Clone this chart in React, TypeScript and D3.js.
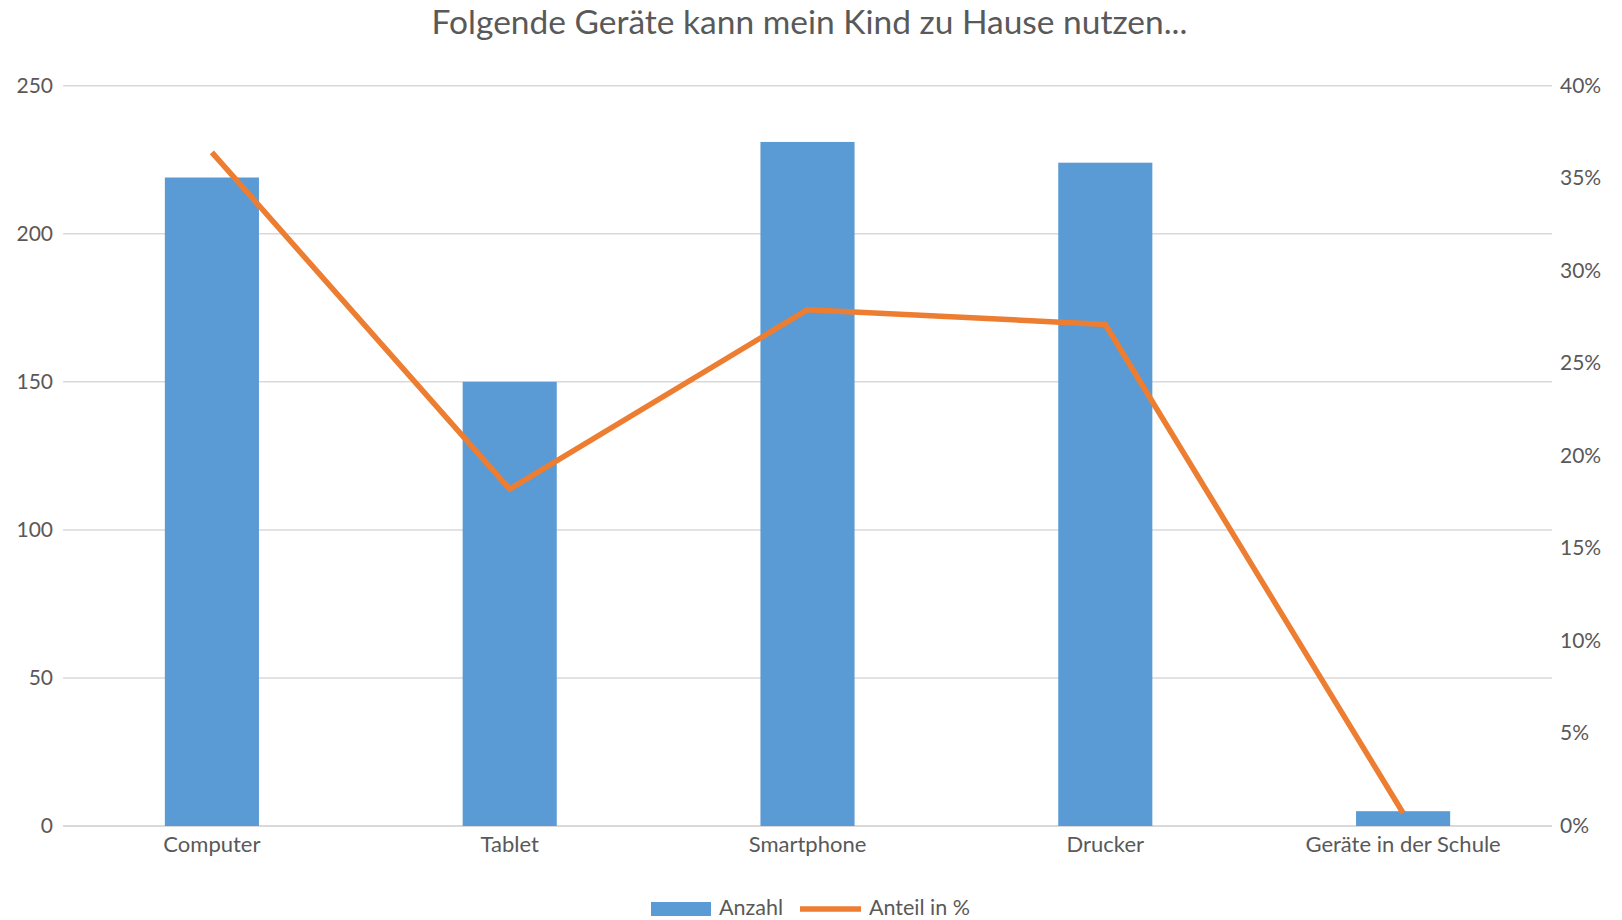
import React from "react";
import * as d3 from "d3";

const categories = ["Computer", "Tablet", "Smartphone", "Drucker", "Geräte in der Schule"];
const anzahl = [219, 150, 231, 224, 5];
const anteil = [36.4, 18.2, 27.9, 27.1, 0.7];
const leftTicks = [0, 50, 100, 150, 200, 250];
const rightTicks = [0, 5, 10, 15, 20, 25, 30, 35, 40];
const title = "Folgende Geräte kann mein Kind zu Hause nutzen...";

const W = 1622;
const H = 920;
const FONT = "Lato, 'Open Sans', sans-serif";
const TEXT = "#595959";
const BLUE = "#5B9BD5";
const ORANGE = "#ED7D31";
const GRID = "#D9D9D9";

export default function App() {
  const left = 63;
  const right = 1552;
  const top = 85.7;
  const bottom = 826;

  const x = d3.scaleBand<string>().domain(categories).range([left, right]).paddingInner(0.684).paddingOuter(0.342);
  const xc = d3.scalePoint<string>().domain(categories).range([left, right]).padding(0.5);
  const yL = d3.scaleLinear().domain([0, 250]).range([bottom, top]);
  const yR = d3.scaleLinear().domain([0, 40]).range([bottom, top]);

  const line = d3
    .line<number>()
    .x((_, i) => xc(categories[i]) as number)
    .y((d) => yR(d));

  return (
    <svg
      width={W}
      height={H}
      style={{ position: "absolute", left: 0, top: 0, background: "#fff" }}
      fontFamily={FONT}
    >
      <rect x={0} y={0} width={W} height={H} fill="#fff" />
      <text x={809.5} y={34} textAnchor="middle" fontSize={33.5} fill={TEXT}>
        {title}
      </text>
      {leftTicks.map((t) => (
        <line key={"g" + t} x1={left} x2={right} y1={yL(t)} y2={yL(t)} stroke={GRID} strokeWidth={t === 0 ? 2 : 1.5} />
      ))}
      {leftTicks.map((t) => (
        <text key={"l" + t} x={53} y={yL(t) + 7} textAnchor="end" fontSize={21} fill={TEXT}>
          {t}
        </text>
      ))}
      {rightTicks.map((t) => (
        <text key={"r" + t} x={1560} y={yR(t) + 7} textAnchor="start" fontSize={21} fill={TEXT}>
          {t + "%"}
        </text>
      ))}
      {categories.map((c, i) => (
        <rect key={"b" + c} x={x(c)} y={yL(anzahl[i])} width={x.bandwidth()} height={yL(0) - yL(anzahl[i])} fill={BLUE} />
      ))}
      <path d={line(anteil) || ""} fill="none" stroke={ORANGE} strokeWidth={5.5} strokeLinejoin="round" />
      {categories.map((c) => (
        <text key={"c" + c} x={xc(c)} y={852} textAnchor="middle" fontSize={22} fill={TEXT}>
          {c}
        </text>
      ))}
      <rect x={651} y={902} width={60} height={14} fill={BLUE} />
      <text x={719} y={914.5} fontSize={21.5} fill={TEXT}>
        Anzahl
      </text>
      <line x1={800} x2={861} y1={909} y2={909} stroke={ORANGE} strokeWidth={5.5} />
      <text x={869} y={914.5} fontSize={21.5} fill={TEXT}>
        Anteil in %
      </text>
    </svg>
  );
}
